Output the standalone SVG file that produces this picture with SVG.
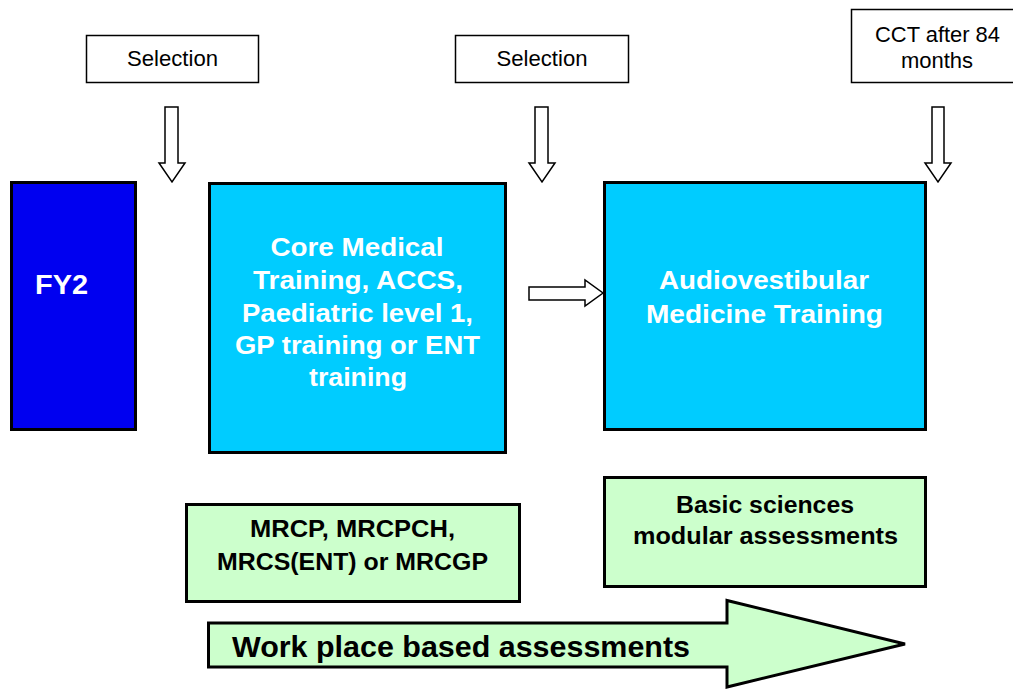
<svg xmlns="http://www.w3.org/2000/svg" width="1013" height="689" viewBox="0 0 1013 689">
<style>
.lbl{fill:#fff;stroke:#000;stroke-width:1.5}
.lt{font-family:"Liberation Sans",Arial,sans-serif;font-size:22px;fill:#000;text-anchor:middle}
.big{stroke:#000;stroke-width:3}
.bt{font-family:"Liberation Sans",Arial,sans-serif;font-size:26px;font-weight:bold;fill:#fff;text-anchor:middle}
.gt{font-family:"Liberation Sans",Arial,sans-serif;font-size:23px;font-weight:bold;fill:#000;text-anchor:middle}
.arr{fill:#fff;stroke:#000;stroke-width:1.5}
</style>
<rect width="1013" height="689" fill="#fff"/>
<g id="sel1"><rect class="lbl" x="86.5" y="35.5" width="172" height="47"/><text class="lt" x="172.5" y="66" textLength="91" lengthAdjust="spacingAndGlyphs">Selection</text></g>
<g id="sel2"><rect class="lbl" x="455.5" y="35.5" width="173" height="47"/><text class="lt" x="542" y="66" textLength="91" lengthAdjust="spacingAndGlyphs">Selection</text></g>
<g id="cct"><rect class="lbl" x="851.5" y="9.5" width="170" height="73"/><text class="lt" x="937.5" y="42" textLength="125" lengthAdjust="spacingAndGlyphs">CCT after 84</text><text class="lt" x="937" y="68">months</text></g>
<g id="fy2"><rect class="big" fill="#0000F0" x="11.5" y="182.5" width="124" height="247"/><text class="bt" x="35" y="294" style="text-anchor:start;font-size:28px" textLength="53" lengthAdjust="spacingAndGlyphs">FY2</text></g>
<g id="core"><rect class="big" fill="#00CCFF" x="209.5" y="183.5" width="296" height="269"/>
<text class="bt" x="357" y="256" textLength="173" lengthAdjust="spacingAndGlyphs">Core Medical</text>
<text class="bt" x="358" y="289" textLength="210" lengthAdjust="spacingAndGlyphs">Training, ACCS,</text>
<text class="bt" x="357.5" y="322" textLength="231" lengthAdjust="spacingAndGlyphs">Paediatric level 1,</text>
<text class="bt" x="357.5" y="354" textLength="245" lengthAdjust="spacingAndGlyphs">GP training or ENT</text>
<text class="bt" x="358" y="386" textLength="98" lengthAdjust="spacingAndGlyphs">training</text></g>
<g id="avm"><rect class="big" fill="#00CCFF" x="604.5" y="182.5" width="321" height="247"/>
<text class="bt" x="764" y="289" textLength="210" lengthAdjust="spacingAndGlyphs">Audiovestibular</text>
<text class="bt" x="764.5" y="323" textLength="237" lengthAdjust="spacingAndGlyphs">Medicine Training</text></g>
<g id="mrcp"><rect class="big" fill="#CCFFCC" x="186.5" y="504.5" width="333" height="97"/>
<text class="gt" x="352.5" y="537" textLength="205" lengthAdjust="spacingAndGlyphs">MRCP, MRCPCH,</text>
<text class="gt" x="352.5" y="570" textLength="271" lengthAdjust="spacingAndGlyphs">MRCS(ENT) or MRCGP</text></g>
<g id="basic"><rect class="big" fill="#CCFFCC" x="604.5" y="477.5" width="321" height="109"/>
<text class="gt" x="765" y="513" textLength="178" lengthAdjust="spacingAndGlyphs">Basic sciences</text>
<text class="gt" x="765.5" y="544" textLength="265" lengthAdjust="spacingAndGlyphs">modular assessments</text></g>
<g id="wpba"><polygon class="big" fill="#CCFFCC" points="208.5,623 727,623 727,600.5 905,644 727,687 727,667 208.5,667"/>
<text x="232" y="657" textLength="458" lengthAdjust="spacingAndGlyphs" style="font-family:'Liberation Sans',Arial,sans-serif;font-size:30px;font-weight:bold;fill:#000">Work place based assessments</text></g>
<g id="connectors">
<polygon class="arr" points="165,107 178,107 178,163 185,163 172,182 159,163 165,163"/>
<polygon class="arr" points="535,107 548,107 548,163 555,163 542,182 529,163 535,163"/>
<polygon class="arr" points="932,107 944,107 944,163 951,163 938,182 925,163 932,163"/>
<polygon class="arr" points="529,287 585,287 585,280 603,293 585,306 585,300 529,300"/>
</g>
</svg>
